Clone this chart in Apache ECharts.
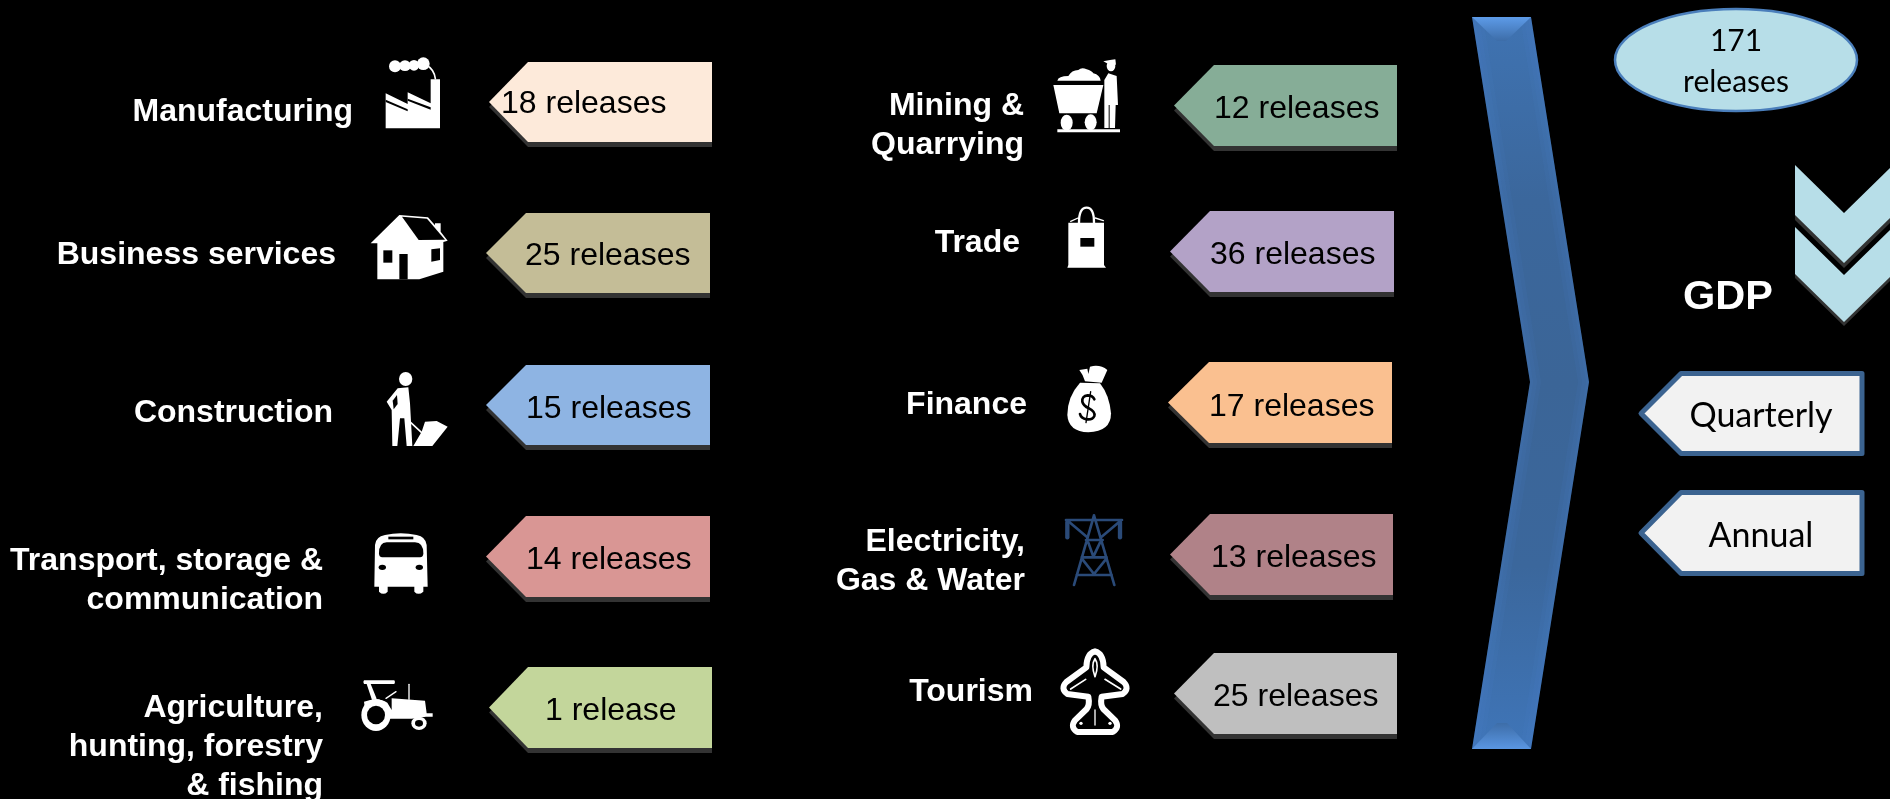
<!DOCTYPE html>
<html>
<head>
<meta charset="utf-8">
<title>GDP releases by sector</title>
<style>html,body{margin:0;padding:0;background:#000;overflow:hidden}#chart{width:1890px;height:799px}</style>
<script src="https://cdn.jsdelivr.net/npm/echarts@6/dist/echarts.min.js"></script>
</head>
<body>
<div id="chart"></div>
<script>
// ---- chart content ----
const sectors = ['Manufacturing', 'Business services', 'Construction', 'Transport, storage &\ncommunication',
  'Agriculture,\nhunting, forestry\n& fishing', 'Mining &\nQuarrying', 'Trade', 'Finance', 'Electricity,\nGas & Water', 'Tourism'];
const releaseCounts = [18, 25, 15, 14, 1, 12, 36, 17, 13, 25];
const totalReleases = 171;
const summaryLabel = 'GDP';
const frequencies = ['Quarterly', 'Annual'];

// ---- layout (pixel-valued axes below): [tipX, shoulderX, rightX, top, bottom] ----
const tagBoxes = [
  [489, 528, 712, 62, 142], [486, 526, 710, 213, 293], [486, 526, 710, 365, 445],
  [486, 526, 710, 516, 597], [489, 528, 712, 667, 748], [1174, 1214, 1397, 65, 146],
  [1170, 1210, 1394, 211, 292], [1168, 1209, 1392, 362, 443], [1170, 1210, 1393, 514, 595], [1174, 1214, 1397, 653, 734]
];
const tagTextAt = [[501, 112], [525, 264], [526, 417], [526, 568], [545, 719], [1214, 117], [1210, 263], [1209, 415], [1211, 566], [1213, 705]];
const labelAt = [[353, 120], [336, 263], [333, 421], [323, 569], [323, 716], [1024, 114], [1020, 251], [1027, 413], [1025, 550], [1033, 700]];
const tagColors = ['#FDEADA', '#C4BD97', '#8EB4E3', '#D99694', '#C3D69B', '#86AD97', '#B3A2C7', '#FAC090', '#B08288', '#BFBFBF'];
const freqBoxes = [[1641, 1681, 1862, 373.5, 453.5], [1641, 1681, 1862, 492.5, 573.5]];
const freqTextAt = [[1761, 426], [1761, 546]];

// ---- icons: drawn in 3x crop coordinates, placed at [x, y] ----
function ell(cx, cy, rx, ry) {
  return `M${cx - rx} ${cy}A${rx} ${ry} 0 1 0 ${cx + rx} ${cy}A${rx} ${ry} 0 1 0 ${cx - rx} ${cy}Z`;
}
const W = '#fff', K = '#000', P = '#2A4A78';
const iconParts = [
  { at: [360, 50], parts: [ // factory + house
    ['M77 130L143 162L143 127L212 160L212 88L240 88L240 235L77 235Z', W],
    ['M77 149L143 178L143 184L77 156Z', K],
    ['M143 146L212 172L212 179L143 152Z', K],
    [ell(105, 49, 18, 18), W], [ell(135, 47, 18, 16), W], [ell(162, 46, 16, 16), W], [ell(190, 41, 19, 19), W],
    ['M200 46Q222 58 226 86', null, W, 5],
    ['M32 580L118 495L204 502L225 526L225 520L242 520L242 545L263 572L250 576L250 665L178 688L52 688L52 580Z', W],
    ['M126 500L201 506L255 569L176 570Z', K],
    ['M70 601L97 601L97 638L70 638Z', K], ['M118 612L143 612L143 688L118 688Z', K],
    ['M214 598L240 595L240 630L214 635Z', K]
  ]},
  { at: [355, 360], parts: [ // worker + bus
    [ell(152, 57, 20, 21), W],
    ['M128 85L160 82L165 130L172 258L155 258L148 175L135 175L127 258L112 258L110 150L95 125Z', W],
    ['M113 122L126 105L128 132L116 148Z', K],
    ['M148 170L200 218', null, W, 5],
    ['M210 185L245 183L278 200L232 258L175 258L200 215Z', W],
    ['M58 680L60 555Q62 530 90 525Q137 515 185 525Q212 530 215 555L218 680L205 680L205 695Q190 708 178 695L178 680L98 680L98 695Q85 708 72 695L72 680Z', W],
    ['M72 580Q72 548 95 547L180 547Q205 548 205 580Q205 592 195 592L82 592Q72 592 72 580Z', K],
    ['M100 530L175 530L175 538L100 538Z', K],
    [ell(82, 622, 11, 8), K], [ell(193, 622, 11, 8), K]
  ]},
  { at: [350, 670], parts: [ // tractor
    ['M42 31L133 31Q137 36 133 42L42 42Q38 36 42 31Z', W],
    ['M50 42L62 42L80 86L66 90Z', W],
    ['M177 43L177 88', null, W, 4], ['M108 85L138 65', null, W, 4],
    ['M45 118L42 95Q85 80 112 98L125 120L125 85L225 92L230 130L248 130L248 140L228 140L185 146L120 146L100 120Z', W],
    [ell(78, 135, 44, 48), W], [ell(78, 135, 27, 28), K],
    [ell(207, 160, 23, 20), W], [ell(207, 160, 12, 10), K]
  ]},
  { at: [1040, 50], parts: [ // mine cart + worker, shopping bag
    ['M40 105L190 105L170 190L58 190Z', W],
    ['M52 92Q55 78 85 78Q95 60 115 60Q125 50 140 58Q155 62 160 70Q180 75 182 92Z', W],
    [ell(80, 218, 18, 24), W], [ell(152, 217, 18, 24), W],
    ['M52 238L240 238L240 247L52 247Z', W],
    [ell(213, 48, 13, 16), W], ['M190 34L210 30L226 28L228 44L205 42Z', W],
    ['M205 70L230 78L234 165L227 165L225 234L209 234L209 165L206 165L206 234L193 234L193 90Z', W],
    ['M85 518L192 518L192 645L198 653L82 653L85 645Z', W],
    ['M117 518Q117 473 140 473Q162 473 162 518', null, W, 7],
    ['M92 514L114 504', null, W, 4], ['M166 504L190 512', null, W, 4],
    ['M121 564L163 564L163 590L121 590Z', K]
  ]},
  { at: [1050, 360], parts: [ // money bag + pylon
    ['M90 68Q52 110 52 165Q55 215 115 217Q183 215 183 160Q178 105 150 70Z', W],
    ['M88 30L112 26L115 42L120 20Q150 12 172 30L155 68L105 64Q100 45 88 30Z', W],
    ['M133 118Q128 106 113 106Q95 108 97 125Q100 138 117 145Q137 155 133 168Q128 180 110 178Q93 175 90 162', null, K, 8],
    ['M122 95L108 188', null, K, 4],
    ['M48 480L216 480M132 466L72 675M132 466L193 675M55 484L110 530M210 484L155 530M108 540L158 540M115 548L130 590M150 548L130 590M95 592L170 592M95 595L132 642M170 595L132 642M80 645L185 645', null, P, 8],
    ['M52 486L52 532', null, P, 13], ['M210 486L210 532', null, P, 13]
  ]},
  { at: [1050, 640], parts: [ // aeroplane
    ['M135 34Q110 40 109 82L49 126Q30 145 52 162L115 170Q120 195 110 207L74 242Q60 262 82 276L188 276Q210 262 196 242L160 207Q150 195 155 170L218 162Q240 145 221 126L161 82Q160 40 135 34Z', K, W, 18],
    ['M135 56Q122 75 135 110Q148 75 135 56Z', K, W, 5],
    ['M62 147L107 118', null, W, 5], ['M165 118L212 147', null, W, 5],
    ['M135 210L135 255', null, W, 4],
    [ell(93, 250, 5, 5), W], [ell(180, 250, 5, 5), W]
  ]}
];

const ARIAL = '"Liberation Sans", Arial, sans-serif';
const CALIBRI = 'Lato, Carlito, sans-serif';

function tagPoints(api, b, dy) {
  return [[b[2], b[3]], [b[1], b[3]], [b[0], (b[3] + b[4]) / 2], [b[1], b[4]], [b[2], b[4]]]
    .map(p => api.coord([p[0], p[1] + dy]));
}
function mid(baseline, size) { return baseline - 0.24 * size; }
function midLato(baseline, size) { return baseline - 0.28 * size; }

function renderTag(params, api) {
  const i = params.dataIndex;
  const n = api.value(2);
  const b = tagBoxes[i];
  const t = api.coord(tagTextAt[i]);
  return { type: 'group', children: [
    { type: 'polygon', shape: { points: tagPoints(api, b, 5) }, style: { fill: '#333333' } },
    { type: 'polygon', shape: { points: tagPoints(api, b, 0) }, style: { fill: tagColors[i] } },
    { type: 'text', x: t[0], y: mid(t[1], 32), style: { text: n + (n === 1 ? ' release' : ' releases'),
      fill: '#000', fontFamily: ARIAL, fontSize: 32, align: 'left', verticalAlign: 'middle' } }
  ]};
}
function renderLabel(params, api) {
  const i = params.dataIndex;
  const p = api.coord(labelAt[i]);
  const lines = sectors[i].split('\n').length;
  return { type: 'text', x: p[0], y: mid(p[1], 32) + (lines - 1) * 19.5,
    style: { text: sectors[i], fill: '#fff', fontFamily: ARIAL, fontWeight: 'bold', fontSize: 32,
      lineHeight: 39, align: 'right', verticalAlign: 'middle' } };
}
function renderIcon(params, api) {
  const ic = iconParts[params.dataIndex];
  const p = api.coord(ic.at);
  return { type: 'group', x: p[0], y: p[1], scaleX: 1 / 3, scaleY: 1 / 3,
    children: ic.parts.map(q => ({ type: 'path', shape: { pathData: q[0] },
      style: { fill: q[1] || 'none', stroke: q[2] || null, lineWidth: q[3] || 0, lineJoin: 'round', lineCap: 'round' } })) };
}
function vGrad(stops) {
  return new echarts.graphic.LinearGradient(0, 0, 0, 1, stops.map((c, k) => ({ offset: k / (stops.length - 1), color: c })));
}
function renderArrow(params, api) {
  const c = a => a.map(p => api.coord(p));
  const kids = [
    { type: 'polygon', shape: { points: c([[1472, 17], [1531, 17], [1589, 382], [1531, 749], [1472, 749], [1530, 382]]) },
      style: { fill: vGrad(['#3F73B2', '#3B679C', '#3B6597', '#3B679C', '#3F75B8']) } }
  ];
  [3, 7, 11].forEach(w => {
    [[[1472, 17], [1530, 382], [1472, 749]], [[1531, 17], [1589, 382], [1531, 749]]].forEach((edge, k) => {
      const s = k === 0 ? w : -w;
      const pts = edge.concat(edge.map(p => [p[0] + s, p[1]]).reverse());
      kids.push({ type: 'polygon', shape: { points: c(pts) }, style: { fill: 'rgba(75,135,215,0.09)' } });
    });
  });
  kids.push({ type: 'polygon', shape: { points: c([[1472, 17], [1531, 17], [1506, 41], [1497, 41]]) }, style: { fill: vGrad(['#5D9BE8', '#3D6DA8']) } });
  kids.push({ type: 'polygon', shape: { points: c([[1472, 749], [1531, 749], [1507, 723], [1497, 723]]) }, style: { fill: vGrad(['#3D6DA8', '#5A96E2']) } });
  return { type: 'group', children: kids };
}
function renderTotal(params, api) {
  const p = api.coord([1736, 60]);
  return { type: 'group', children: [
    { type: 'ellipse', shape: { cx: p[0], cy: p[1], rx: 121, ry: 51 }, style: { fill: '#B7DEE8', stroke: '#4A7EBB', lineWidth: 2.5 } },
    { type: 'text', x: p[0], y: p[1] + 2, style: { text: api.value(0) + '\nreleases', fill: '#000', fontFamily: CALIBRI,
      fontSize: 30, lineHeight: 41, align: 'center', verticalAlign: 'middle' } }
  ]};
}
function renderGdp(params, api) {
  const c = a => a.map(p => api.coord(p));
  const t = api.coord([1728, 308]);
  const chev = (y, h, dy, fill) => ({ type: 'polygon',
    shape: { points: c([[1795, y + dy], [1844, y + 48 + dy], [1893, y + dy], [1893, y + h + dy], [1844, y + 48 + h + dy], [1795, y + h + dy]]) },
    style: { fill } });
  return { type: 'group', children: [
    chev(165, 50, 5, '#333333'), chev(165, 50, 0, '#B7DEE8'),
    chev(227, 47, 4, '#333333'), chev(227, 47, 0, '#B7DEE8'),
    { type: 'text', x: t[0], y: mid(t[1], 41.5), style: { text: summaryLabel, fill: '#fff', fontFamily: ARIAL, fontWeight: 'bold',
      fontSize: 41.5, align: 'center', verticalAlign: 'middle' } }
  ]};
}
function renderFreq(params, api) {
  const i = params.dataIndex;
  const t = api.coord(freqTextAt[i]);
  return { type: 'group', children: [
    { type: 'polygon', shape: { points: tagPoints(api, freqBoxes[i], 0) }, style: { fill: '#F2F2F2', stroke: '#3B6390', lineWidth: 5, lineJoin: 'round' } },
    { type: 'text', x: t[0], y: midLato(t[1], 34), style: { text: frequencies[i], fill: '#000', fontFamily: CALIBRI,
      fontSize: 34, align: 'center', verticalAlign: 'middle' } }
  ]};
}

const base = { type: 'custom', coordinateSystem: 'cartesian2d', silent: true, animation: false, clip: false };
const chart = echarts.init(document.getElementById('chart'), null, { renderer: 'canvas' });
chart.setOption({
  backgroundColor: '#000',
  animation: false,
  tooltip: { show: false },
  grid: { left: 0, right: 0, top: 0, bottom: 0, containLabel: false },
  xAxis: { type: 'value', min: 0, max: 1890, show: false },
  yAxis: { type: 'value', min: 0, max: 799, inverse: true, show: false },
  series: [
    Object.assign({}, base, { name: 'arrow', data: [[0, 0]], renderItem: renderArrow }),
    Object.assign({}, base, { name: 'tags', data: releaseCounts.map((n, i) => [tagBoxes[i][0], tagBoxes[i][3], n]), encode: { x: 0, y: 1 }, renderItem: renderTag }),
    Object.assign({}, base, { name: 'labels', data: sectors.map((s, i) => labelAt[i]), encode: { x: 0, y: 1 }, renderItem: renderLabel }),
    Object.assign({}, base, { name: 'icons', data: iconParts.map(ic => ic.at), encode: { x: 0, y: 1 }, renderItem: renderIcon }),
    Object.assign({}, base, { name: 'total', data: [[totalReleases]], encode: { x: 0 }, renderItem: renderTotal }),
    Object.assign({}, base, { name: 'gdp', data: [[0, 0]], renderItem: renderGdp }),
    Object.assign({}, base, { name: 'frequency', data: frequencies.map((f, i) => freqTextAt[i]), encode: { x: 0, y: 1 }, renderItem: renderFreq })
  ]
});
</script>
</body>
</html>
